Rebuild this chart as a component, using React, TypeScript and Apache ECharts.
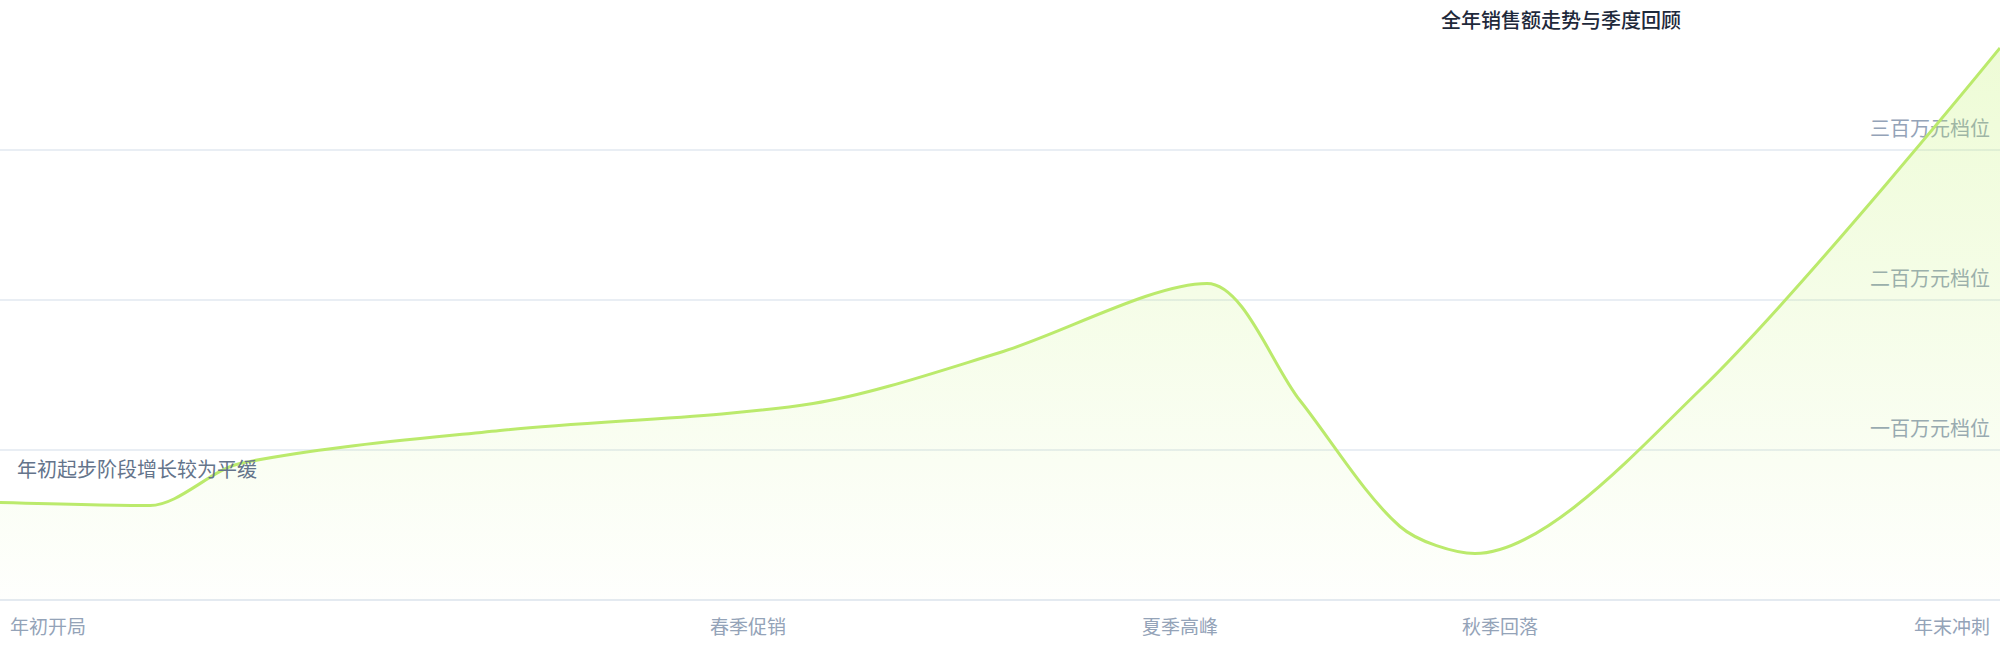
import { useEffect, useRef } from 'react';
import * as echarts from 'echarts';

const FONT = '"Noto Sans CJK SC", "Noto Sans", sans-serif';

const chartTitle = '全年销售额走势与季度回顾';
const noteText = '年初起步阶段增长较为平缓';

// x: position along the year (0–200), y: sales in 万元
const pointX = [0, 15, 24, 50, 81.3, 100, 120.7, 130, 140, 147.5, 170, 200];
const pointY = [65, 63, 91, 113, 131, 165, 211, 133, 49, 31, 140, 368];

const xTickValues = [4.8, 74.8, 118, 150, 195.2];
const xTickLabels = ['年初开局', '春季促销', '夏季高峰', '秋季回落', '年末冲刺'];

const yTickValues = [100, 200, 300];
const yTickLabels = ['一百万元档位', '二百万元档位', '三百万元档位'];

export default function App() {
  const chartRef = useRef<HTMLDivElement>(null);

  useEffect(() => {
    if (!chartRef.current) return;
    const chart = echarts.init(chartRef.current, null, { renderer: 'svg' });

    const option: echarts.EChartsOption = {
      animation: false,
      backgroundColor: '#ffffff',
      title: {
        text: chartTitle,
        left: 1436,
        top: 4,
        textStyle: { color: '#1e293b', fontSize: 20, fontWeight: 500, fontFamily: FONT },
      },
      grid: { left: 0, right: 0, top: 0, bottom: 60 },
      xAxis: {
        type: 'value',
        min: 0,
        max: 200,
        axisLine: { lineStyle: { color: '#e2e8f0', width: 1.5 } },
        axisTick: { show: false },
        splitLine: { show: false },
        axisLabel: {
          customValues: xTickValues,
          formatter: (v: number) => xTickLabels[xTickValues.indexOf(v)] ?? '',
          margin: 16,
          color: '#94a3b8',
          fontSize: 19,
          fontFamily: FONT,
          hideOverlap: false,
        },
      },
      yAxis: {
        type: 'value',
        position: 'right',
        min: 0,
        max: 400,
        interval: 100,
        axisLine: { show: false },
        axisTick: { show: false },
        splitLine: {
          showMaxLine: false,
          lineStyle: { color: '#e2e8f0', width: 1.5 },
        },
        axisLabel: {
          inside: true,
          margin: 10,
          verticalAlign: 'bottom',
          padding: [0, 0, 13, 0],
          color: '#94a3b8',
          fontSize: 20,
          fontFamily: FONT,
          formatter: (v: number) => {
            const i = yTickValues.indexOf(v);
            return i >= 0 ? yTickLabels[i] : '';
          },
        },
      },
      graphic: [
        {
          type: 'text',
          left: 17,
          top: 458,
          z: 100,
          style: {
            text: noteText,
            fill: '#64748b',
            fontSize: 20,
            fontFamily: FONT,
          },
        },
      ],
      series: [
        {
          type: 'line',
          data: pointX.map((x, i) => [x, pointY[i]]),
          smooth: 0.3,
          symbol: 'none',
          lineStyle: { width: 3, color: '#bbea6c' },
          areaStyle: {
            color: new echarts.graphic.LinearGradient(0, 0, 0, 1, [
              { offset: 0, color: 'rgba(190, 242, 100, 0.38)' },
              { offset: 1, color: 'rgba(190, 242, 100, 0.02)' },
            ]),
          },
        },
      ],
    };

    chart.setOption(option);
    return () => chart.dispose();
  }, []);

  return (
    <div
      ref={chartRef}
      style={{ position: 'absolute', left: 0, top: 0, width: 2000, height: 660 }}
    />
  );
}
